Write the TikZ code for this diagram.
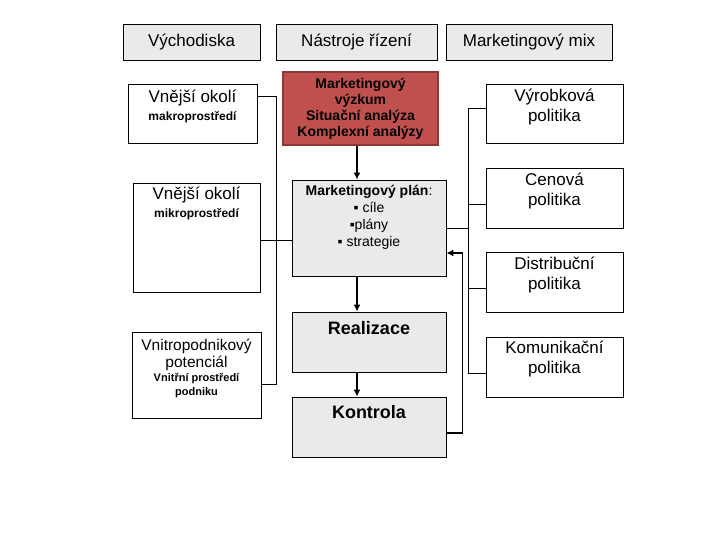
\documentclass[tikz,border=0pt]{standalone}
\usepackage{fontspec}
\setmainfont{Liberation Sans}
\usetikzlibrary{arrows.meta, positioning, calc}
\definecolor{boxgray}{HTML}{EAEAEA}
\definecolor{resred}{HTML}{C0504D}
\definecolor{resedge}{HTML}{8C3836}
\newcommand{\bigtxt}{\fontsize{17}{19}\selectfont}
\newcommand{\midtxt}{\fontsize{14}{17}\selectfont}
\newcommand{\subtxt}{\fontsize{12}{14}\selectfont\bfseries}
\tikzset{
    head/.style={
        rectangle, draw=black, fill=boxgray, line width=0.8pt,
        minimum height=36pt, font=\bigtxt
    },
    envbox/.style={
        rectangle, draw=black, fill=white, line width=0.8pt
    },
    toolbox/.style={
        rectangle, draw=black, fill=boxgray, line width=0.8pt,
        minimum width=154pt
    },
    resbox/.style={
        rectangle, draw=resedge, fill=resred, line width=2.5pt,
        minimum width=155pt, minimum height=73pt,
        font=\midtxt\bfseries, align=center
    },
    mixbox/.style={
        rectangle, draw=black, fill=white, line width=0.8pt,
        minimum width=137pt, minimum height=59pt
    },
    lbl/.style={align=center, inner sep=0pt, font=\bigtxt},
    link/.style={draw=black, line width=0.8pt},
    flow/.style={-{Latex[length=7pt, width=7pt]}, draw=black, line width=1.6pt}
}
\begin{document}
\begin{tikzpicture}[x=1pt, y=-1pt]
    \useasboundingbox[fill=white] (0,0) rectangle (720,540);

    % column headers
    \node[head, minimum width=137pt] (vych) at (191.5,42) {Východiska};
    \node[head, minimum width=161pt] (nast) at (356.5,42) {Nástroje řízení};
    \node[head, minimum width=166pt] (mix) at (529,42) {Marketingový mix};

    % left column
    \node[envbox, minimum width=129pt, minimum height=59pt] (makro) at (192.5,113.5) {};
    \node[lbl] (makrot) at (192.5,106.5) {Vnější okolí\\[-1pt]{\subtxt makroprostředí}};
    \node[envbox, minimum width=127pt, minimum height=109pt] (mikro) at (196.5,237.5) {};
    \node[lbl] (mikrot) at (196.5,203.5) {Vnější okolí\\[-1pt]{\subtxt mikroprostředí}};
    \node[envbox, minimum width=129pt, minimum height=86pt] (vnitro) at (196.5,375) {};
    \node[lbl, font=\fontsize{15.5}{17}\selectfont] (vnitrot) at (196.5,368.5)
        {Vnitropodnikový\\potenciál\\[-3pt]{\fontsize{11}{13}\selectfont\bfseries Vnitřní prostředí}\\[-3pt]{\fontsize{11}{13}\selectfont\bfseries podniku}};

    % middle column
    \node[resbox] (vyzk) at (360.5,108.5) {Marketingový\\[-1pt]výzkum\\[-1pt]Situační analýza\\[-1pt]Komplexní analýzy};
    \node[toolbox, minimum height=96pt] (plan) at (369,228) {};
    \node[lbl, font=\midtxt] (plant) at (369,217) {\textbf{Marketingový plán}:\\ ▪ cíle\\ ▪plány\\ ▪ strategie};
    \node[toolbox, minimum height=60pt] (real) at (369,342) {};
    \node[lbl, font=\fontsize{18}{20}\selectfont\bfseries] (realt) at (369,328) {Realizace};
    \node[toolbox, minimum height=60pt] (kont) at (369,427) {};
    \node[lbl, font=\fontsize{18}{20}\selectfont\bfseries] (kontt) at (369,412) {Kontrola};

    % right column
    \node[mixbox] (vyr) at (554.5,113.5) {};
    \node[lbl] (vyrt) at (554.5,107) {Výrobková\\[1pt]politika};
    \node[mixbox, minimum height=60pt] (cen) at (554.5,198) {};
    \node[lbl] (cent) at (554.5,191.5) {Cenová\\[1pt]politika};
    \node[mixbox, minimum height=60pt] (dist) at (554.5,282) {};
    \node[lbl] (distt) at (554.5,275.5) {Distribuční\\[1pt]politika};
    \node[mixbox, minimum height=60pt] (kom) at (554.5,367) {};
    \node[lbl] (komt) at (554.5,359.5) {Komunikační\\[1pt]politika};

    % left links
    \draw[link] ([yshift=17.5pt]makro.east) -| ([xshift=15pt, yshift=-9pt]vnitro.east) -- ([yshift=-9pt]vnitro.east);
    \draw[link] ([yshift=-2.5pt]mikro.east) -- ([yshift=-2.5pt]mikro.east -| plan.west);

    % right links
    \draw[link] (plan.east) -- ++(23pt,0);
    \draw[link] ([yshift=5.5pt]vyr.west) -| ([xshift=-17pt, yshift=-6pt]kom.west) -- ([yshift=-6pt]kom.west);
    \draw[link] ([yshift=-6pt]cen.west) -- ++(-17pt,0);
    \draw[link] ([yshift=-6pt]dist.west) -- ++(-17pt,0);

    % flow
    \draw[flow] ([xshift=-3.5pt]vyzk.south) -- ([xshift=-3.5pt]vyzk.south |- plan.north);
    \draw[flow] ([xshift=-12pt]plan.south) -- ([xshift=-12pt]real.north);
    \draw[flow] ([xshift=-12pt]real.south) -- ([xshift=-12pt]kont.north);
    \draw[flow] ([yshift=-6pt]kont.east) -- ++(16pt,0) |- ([yshift=-25pt]plan.east);
\end{tikzpicture}
\end{document}
